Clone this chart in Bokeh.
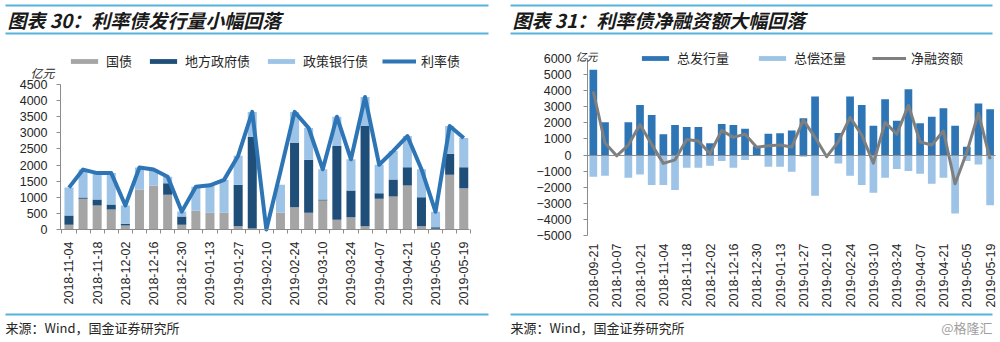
import math
from bokeh.plotting import figure
from bokeh.models import (ColumnDataSource, FixedTicker, Range1d, Label, BoxAnnotation,
                          Legend, LegendItem, LinearAxis)
from bokeh.layouts import row
from bokeh.embed import file_html
from bokeh.resources import INLINE

# ---------------- data: left chart (利率债发行量, 亿元) ----------------
left_dates = ["2018-11-04", "2018-11-11", "2018-11-18", "2018-11-25", "2018-12-02",
              "2018-12-09", "2018-12-16", "2018-12-23", "2018-12-30", "2019-01-06",
              "2019-01-13", "2019-01-20", "2019-01-27", "2019-02-03", "2019-02-10",
              "2019-02-17", "2019-02-24", "2019-03-03", "2019-03-10", "2019-03-17",
              "2019-03-24", "2019-03-31", "2019-04-07", "2019-04-14", "2019-04-21",
              "2019-04-28", "2019-05-05", "2019-05-12", "2019-05-19"]
gov_bond = [145, 952, 745, 621, 124, 1242, 1366, 1076, 145, 580, 518, 518, 104, 30, 0,
            518, 693, 518, 900, 300, 383, 104, 952, 1025, 1366, 104, 20, 1697, 1283]
local_bond = [290, 42, 186, 155, 52, 0, 0, 363, 259, 0, 0, 0, 1283, 2837, 0,
              0, 1988, 1645, 31, 2288, 828, 3105, 176, 528, 569, 900, 52, 653, 652]
policy_bond = [865, 866, 819, 974, 569, 683, 499, 201, 151, 750, 852, 1022, 903, 783, 0,
               869, 969, 987, 939, 912, 969, 901, 882, 887, 965, 866, 478, 860, 905]
rate_bond = [1300, 1860, 1750, 1750, 745, 1925, 1865, 1640, 555, 1330, 1370, 1540, 2290, 3650, 0,
             1800, 3650, 3150, 1870, 3500, 2180, 4110, 2010, 2440, 2900, 1870, 550, 3210, 2840]
left_yticks = [0, 500, 1000, 1500, 2000, 2500, 3000, 3500, 4000, 4500]

# ---------------- data: right chart (净融资额, 亿元) ----------------
right_dates = ["2018-09-21", "2018-09-30", "2018-10-07", "2018-10-14", "2018-10-21",
               "2018-10-28", "2018-11-04", "2018-11-11", "2018-11-18", "2018-11-25",
               "2018-12-02", "2018-12-09", "2018-12-16", "2018-12-23", "2018-12-30",
               "2019-01-06", "2019-01-13", "2019-01-20", "2019-01-27", "2019-02-03",
               "2019-02-10", "2019-02-17", "2019-02-24", "2019-03-03", "2019-03-10",
               "2019-03-17", "2019-03-24", "2019-03-31", "2019-04-07", "2019-04-14",
               "2019-04-21", "2019-04-28", "2019-05-05", "2019-05-12", "2019-05-19"]
total_issue = [5294, 2034, 0, 2034, 3114, 2491, 1300, 1860, 1750, 1750, 740, 1930, 1865, 1630, 540,
               1320, 1360, 1530, 2290, 3640, 0, 1370, 3633, 3114, 1827, 3467, 2138, 4090, 1972,
               2387, 2906, 1827, 519, 3197, 2844]
total_repay = [-1349, -1287, 0, -1412, -1204, -1868, -1868, -2180, -789, -789, -664, -374, -789,
               -311, -40, -727, -727, -1038, -104, -2533, 0, -519, -1287, -1868, -2346, -1412,
               -872, -996, -1163, -1785, -1412, -3633, -374, -581, -3114]
net_finance = [3950, 750, -50, 620, 1900, 650, -520, -300, 960, 880, 80, 1530, 1100, 1300, 480,
               580, 630, 500, 2180, 1100, -100, 830, 2340, 1245, -500, 2030, 1300, 3090, 810,
               620, 1495, -1790, 170, 2600, -260]
right_yticks = [-5000, -4000, -3000, -2000, -1000, 0, 1000, 2000, 3000, 4000, 5000, 6000]

# ---------------- styles ----------------
CJK = "Noto Sans CJK SC"
LAT = "Liberation Sans"
GRAY = "#a5a5a5"
NAVY = "#1f4e79"
LIGHT = "#9dc3e6"
BLUE = "#2e75b6"
NETGRAY = "#7f7f7f"
AXIS = "#8c8c8c"
TXT = "#262626"
RULE = "#56b4dc"
W, H = 500, 342


def span_range(lo_px, hi_px, lo_val, hi_val, size):
    """Range whose [lo_val, hi_val] lands on pixel span [lo_px, hi_px] of a full-canvas frame."""
    k = (hi_val - lo_val) / (hi_px - lo_px)
    return Range1d(lo_val - lo_px * k, hi_val + (size - hi_px) * k)


def make_fig(x_rng, y_rng):
    p = figure(width=W, height=H, x_range=x_rng, y_range=y_rng, title=None,
               output_backend="svg", toolbar_location=None,
               min_border=0, min_border_left=0, min_border_right=0,
               min_border_top=0, min_border_bottom=0,
               background_fill_color="white", border_fill_color="white")
    p.xgrid.visible = False
    p.ygrid.visible = False
    p.outline_line_color = None
    for ax in (p.xaxis[0], p.yaxis[0]):
        ax.major_label_text_font = LAT
        ax.major_label_text_color = TXT
        ax.major_label_text_font_size = "12.5px"
        ax.axis_line_color = AXIS
        ax.major_tick_line_color = AXIS
        ax.minor_tick_line_color = AXIS
    p.yaxis.minor_tick_line_color = None
    p.yaxis.major_tick_out = 4
    p.yaxis.major_tick_in = 0
    return p


def decorate(p, x0, x1, title, source_txt):
    for y0 in (4, 32, 313):
        p.add_layout(BoxAnnotation(left=x0, right=x1, top=y0, bottom=y0 + 2,
                                   left_units="canvas", right_units="canvas",
                                   top_units="canvas", bottom_units="canvas",
                                   fill_color=RULE, fill_alpha=1, line_color=None))
    p.add_layout(Label(x=x0 + 2, y=19, x_units="canvas", y_units="canvas", text=title,
                       text_font=CJK, text_font_size="19px", text_font_style="bold italic",
                       text_color="#1a1a1a", text_baseline="middle", text_align="left"))
    p.add_layout(Label(x=x0, y=327, x_units="canvas", y_units="canvas", text=source_txt,
                       text_font=CJK, text_font_size="13px", text_color=TXT,
                       text_baseline="middle", text_align="left"))


def legend(items, x, yc, spacing):
    return Legend(items=items, orientation="horizontal", location=(x, H - yc - 10),
                  padding=0, margin=0, spacing=spacing, label_standoff=5,
                  glyph_width=34, glyph_height=6, label_height=14,
                  label_text_font=CJK, label_text_font_size="13px", label_text_color=TXT,
                  border_line_color=None, background_fill_alpha=0)


# ================= left figure =================
n1 = len(left_dates)
idx1 = list(range(n1))
src1 = ColumnDataSource(dict(x=idx1, gov=gov_bond, local=local_bond, policy=policy_bond,
                             total=rate_bond))
x1lo, x1hi = -0.6, n1 - 1 + 0.4
p1 = make_fig(span_range(60, 60 + 14.1 * (x1hi - x1lo), x1lo, x1hi, W),
              span_range(H - 229, H - 84, 0, 4500, H))
rs1 = p1.vbar_stack(["gov", "local", "policy"], x="x", width=0.64, source=src1,
                    fill_color=[GRAY, NAVY, LIGHT], line_color=None)
rl1 = p1.line("x", "total", source=src1, line_color=BLUE, line_width=4, line_join="round")

ya1 = p1.yaxis[0]
ya1.fixed_location = x1lo
ya1.bounds = (0, 4500)
ya1.ticker = FixedTicker(ticks=left_yticks)
ya1.major_label_standoff = 9

xa1 = p1.xaxis[0]
xa1.fixed_location = 0
xa1.bounds = (x1lo, x1hi)
xa1.ticker = FixedTicker(ticks=idx1[::2], minor_ticks=[i - 0.5 for i in range(n1 + 1)])
xa1.major_label_overrides = {i: left_dates[i] for i in idx1[::2]}
xa1.major_label_orientation = math.pi / 2
xa1.major_tick_out = 0
xa1.major_tick_in = 0
xa1.minor_tick_out = 4
xa1.minor_tick_in = 0
xa1.major_label_standoff = 8

p1.add_layout(Label(x=30, y=72, x_units="canvas", y_units="canvas", text="亿元",
                    text_font=CJK, text_font_size="12px", text_color=TXT,
                    text_baseline="middle", text_font_style="italic"))
p1.add_layout(legend([LegendItem(label="国债", renderers=[rs1[0]]),
                      LegendItem(label="地方政府债", renderers=[rs1[1]]),
                      LegendItem(label="政策银行债", renderers=[rs1[2]]),
                      LegendItem(label="利率债", renderers=[rl1])], 67, 60, 14))
decorate(p1, 5, 488, "图表 30：利率债发行量小幅回落", "来源：Wind，国金证券研究所")

# ================= right figure =================
n2 = len(right_dates)
idx2 = list(range(n2))
src2 = ColumnDataSource(dict(x=idx2, issue=total_issue, repay=total_repay, net=net_finance))
x2lo, x2hi = -0.5, n2 - 0.5
p2 = make_fig(span_range(87, 87 + 11.67 * (x2hi - x2lo), x2lo, x2hi, W),
              span_range(H - 235, H - 58, -5000, 6000, H))
ri2 = p2.vbar(x="x", top="issue", bottom=0, width=0.66, source=src2, fill_color=BLUE,
              line_color=None)
rr2 = p2.vbar(x="x", top="repay", bottom=0, width=0.66, source=src2, fill_color=LIGHT,
              line_color=None)
rn2 = p2.line("x", "net", source=src2, line_color=NETGRAY, line_width=3, line_join="round")

ya2 = p2.yaxis[0]
ya2.fixed_location = x2lo
ya2.bounds = (-5000, 6000)
ya2.ticker = FixedTicker(ticks=right_yticks)
ya2.major_label_standoff = 12

xa2 = p2.xaxis[0]
xa2.fixed_location = -5000
xa2.ticker = FixedTicker(ticks=idx2[::2])
xa2.major_label_overrides = {i: right_dates[i] for i in idx2[::2]}
xa2.major_label_orientation = math.pi / 2
xa2.axis_line_color = None
xa2.major_tick_line_color = None
xa2.minor_tick_line_color = None
xa2.major_tick_out = 0
xa2.major_label_standoff = 8

zero_axis = LinearAxis(fixed_location=0, bounds=(x2lo, x2hi), ticker=FixedTicker(ticks=[]),
                       axis_line_color=AXIS, major_tick_line_color=None,
                       minor_tick_line_color=None, major_label_text_alpha=0)
p2.add_layout(zero_axis, "below")

p2.add_layout(Label(x=75, y=55, x_units="canvas", y_units="canvas", text="亿元",
                    text_font=CJK, text_font_size="11px", text_color=TXT,
                    text_baseline="middle", text_font_style="italic"))
p2.add_layout(legend([LegendItem(label="总发行量", renderers=[ri2]),
                      LegendItem(label="总偿还量", renderers=[rr2]),
                      LegendItem(label="净融资额", renderers=[rn2])], 138, 57, 26))
decorate(p2, 10, 492, "图表 31：利率债净融资额大幅回落", "来源：Wind，国金证券研究所")
p2.add_layout(Label(x=492, y=327, x_units="canvas", y_units="canvas", text="@格隆汇",
                    text_font=CJK, text_font_size="13px", text_color="#a0a0a0",
                    text_baseline="middle", text_align="right"))

layout = row(p1, p2, spacing=0)
open("out.html", "w").write(file_html(layout, INLINE))
